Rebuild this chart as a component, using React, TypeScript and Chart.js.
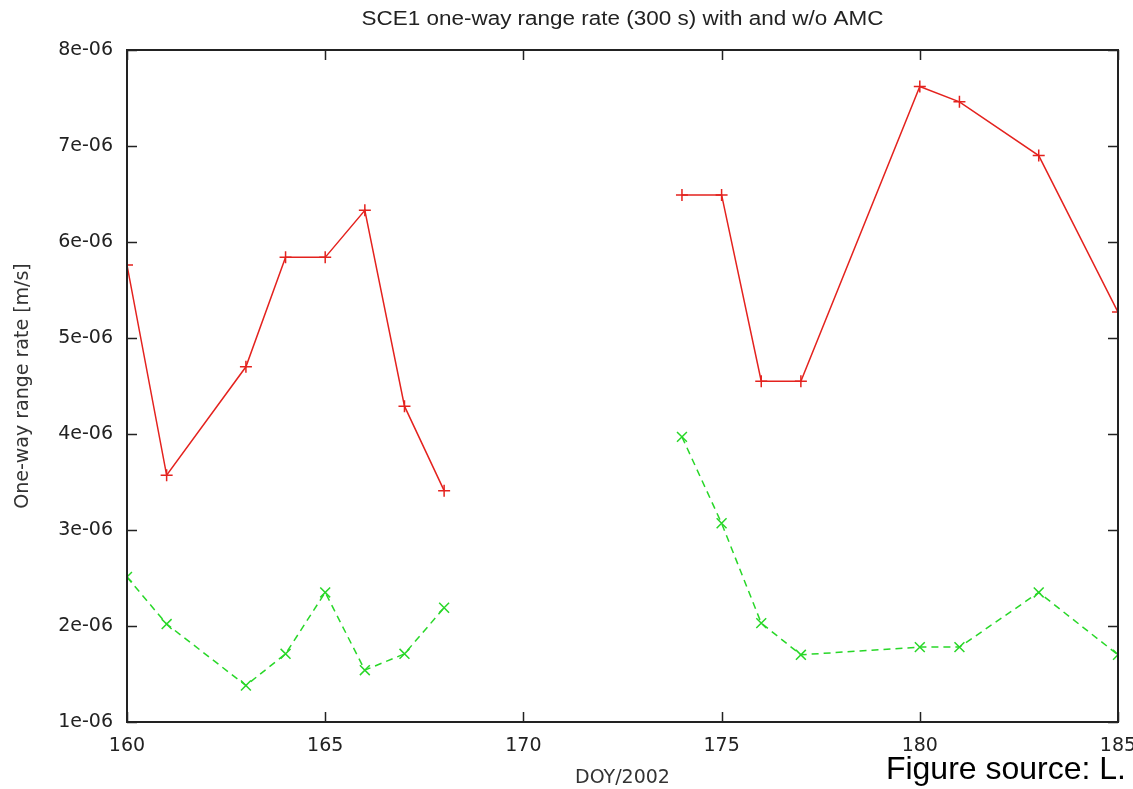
import React, { useEffect, useRef } from "react";
import { Chart, registerables } from "chart.js";

Chart.register(...registerables);

const doy: number[] = [160, 161, 163, 164, 165, 166, 167, 168, 171, 174, 175, 176, 177, 180, 181, 183, 185];
const withoutAmc: (number | null)[] = [
  5.76e-6, 3.57e-6, 4.7e-6, 5.84e-6, 5.84e-6, 6.33e-6, 4.29e-6, 3.41e-6, null,
  6.49e-6, 6.49e-6, 4.55e-6, 4.55e-6, 7.62e-6, 7.46e-6, 6.9e-6, 5.27e-6,
];
const withAmc: (number | null)[] = [
  2.51e-6, 2.02e-6, 1.38e-6, 1.71e-6, 2.35e-6, 1.54e-6, 1.71e-6, 2.19e-6, null,
  3.97e-6, 3.07e-6, 2.03e-6, 1.7e-6, 1.78e-6, 1.78e-6, 2.35e-6, 1.7e-6,
];
const titleText = "SCE1 one-way range rate (300 s) with and w/o AMC";
const xTitle = "DOY/2002";
const yTitle = "One-way range rate [m/s]";
const sourceText = "Figure source: L.";

const FONT = "'DejaVu Sans', Arial, sans-serif";
const SRC_FONT = "'Liberation Sans', Arial, Helvetica, sans-serif";

const framePlugin = {
  id: "gnuplotFrame",
  afterDraw(chart: any) {
    const { ctx, chartArea } = chart;
    const { left, right, top, bottom } = chartArea;
    const xs = chart.scales.x;
    const ys = chart.scales.y;
    ctx.save();
    ctx.strokeStyle = "#222";
    ctx.lineWidth = 1.5;
    ctx.beginPath();
    const tl = 10;
    ys.ticks.forEach((t: any) => {
      const p = Math.round(ys.getPixelForValue(t.value)) + 0.5;
      ctx.moveTo(left, p);
      ctx.lineTo(left + tl, p);
      ctx.moveTo(right, p);
      ctx.lineTo(right - tl, p);
    });
    xs.ticks.forEach((t: any) => {
      const p = Math.round(xs.getPixelForValue(t.value)) + 0.5;
      ctx.moveTo(p, bottom);
      ctx.lineTo(p, bottom - tl);
      ctx.moveTo(p, top);
      ctx.lineTo(p, top + tl);
    });
    ctx.stroke();
    ctx.lineWidth = 2;
    ctx.strokeRect(left, top, right - left, bottom - top);
    ctx.fillStyle = "#222";
    ctx.font = `20px ${SRC_FONT}`;
    ctx.textAlign = "center";
    ctx.textBaseline = "alphabetic";
    const w = ctx.measureText(titleText).width;
    const sx = 522 / w;
    ctx.translate((left + right) / 2, 25);
    ctx.scale(sx, 1);
    ctx.fillText(titleText, 0, 0);
    ctx.restore();
  },
};

export default function App() {
  const ref = useRef<HTMLCanvasElement | null>(null);

  useEffect(() => {
    if (!ref.current) return;
    const data = doy.map((d, i) => ({ x: d, y: withoutAmc[i] }));
    const data2 = doy.map((d, i) => ({ x: d, y: withAmc[i] }));
    const chart = new Chart(ref.current, {
      type: "line",
      data: {
        datasets: [
          {
            label: "w/o AMC",
            data: data as any,
            borderColor: "rgb(228,34,30)",
            backgroundColor: "rgb(228,34,30)",
            borderWidth: 1.5,
            pointStyle: "cross",
            pointRadius: 6,
            pointBorderWidth: 1.5,
            pointBorderColor: "rgb(228,34,30)",
            spanGaps: false,
            tension: 0,
          },
          {
            label: "with AMC",
            data: data2 as any,
            borderColor: "rgb(40,215,40)",
            backgroundColor: "rgb(40,215,40)",
            borderWidth: 1.5,
            borderDash: [7, 5],
            pointStyle: "crossRot",
            pointRadius: 7,
            pointBorderWidth: 1.5,
            pointBorderColor: "rgb(40,215,40)",
            spanGaps: false,
            tension: 0,
          },
        ],
      },
      options: {
        animation: false,
        responsive: true,
        maintainAspectRatio: false,
        layout: { padding: { top: 50, right: 15, left: 0, bottom: 0 } },
        plugins: {
          legend: { display: false },
          tooltip: { enabled: false },
          title: { display: false },
        },
        scales: {
          x: {
            type: "linear",
            min: 160,
            max: 185,
            grid: { display: false, drawTicks: false },
            border: { display: false },
            ticks: {
              stepSize: 5,
              padding: 13,
              color: "#222",
              font: { size: 19, family: FONT },
              maxRotation: 0,
            },
            title: {
              display: true,
              text: xTitle,
              color: "#333",
              font: { size: 19, family: FONT },
              padding: { top: 0, bottom: 0 },
            },
            afterFit: (s: any) => {
              s.height = 67;
              s.paddingLeft = 0;
              s.paddingRight = 0;
            },
          },
          y: {
            type: "linear",
            min: 1e-6,
            max: 8e-6,
            grid: { display: false, drawTicks: false },
            border: { display: false },
            ticks: {
              stepSize: 1e-6,
              padding: 14,
              color: "#222",
              font: { size: 19, family: FONT },
              callback: (v: any) => {
                const s = Number(v).toExponential(0);
                return s.replace(/e([+-])(\d)$/, "e$10$2");
              },
            },
            title: {
              display: true,
              text: yTitle,
              color: "#333",
              font: { size: 19, family: FONT },
              padding: { top: 12, bottom: 0 },
            },
            afterFit: (s: any) => {
              s.width = 127;
              s.paddingTop = 0;
              s.paddingBottom = 0;
            },
          },
        },
      },
      plugins: [framePlugin],
    });
    return () => chart.destroy();
  }, []);

  return (
    <div
      style={{
        position: "absolute",
        left: 0,
        top: 0,
        width: 1133,
        height: 789,
        background: "#fff",
        overflow: "hidden",
      }}
    >
      <canvas ref={ref} />
      <div
        style={{
          position: "absolute",
          right: 7,
          top: 752,
          fontFamily: SRC_FONT,
          fontSize: 32,
          color: "#000",
          lineHeight: "32px",
          whiteSpace: "nowrap",
        }}
      >
        {sourceText}
      </div>
    </div>
  );
}
